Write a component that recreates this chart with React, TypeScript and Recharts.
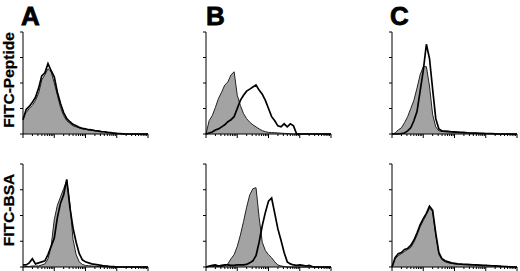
import { ComposedChart, Area, Line, XAxis, YAxis } from "recharts";

// log fluorescence, one bin every 0.1 decade (0 = 10^0 ... 4 = 10^4)
const BINS = [
  0, 0.1, 0.2, 0.3, 0.4, 0.5, 0.6, 0.7, 0.8, 0.9, 1, 1.1, 1.2, 1.3, 1.4, 1.5, 1.6, 1.7, 1.8, 1.9, 2,
  2.1, 2.2, 2.3, 2.4, 2.5, 2.6, 2.7, 2.8, 2.9, 3, 3.1, 3.2, 3.3, 3.4, 3.5, 3.6, 3.7, 3.8, 3.9, 4,
];
const DECADES = [0, 1, 2, 3, 4];
const MINORS = [2, 3, 4, 5, 6, 7, 8, 9];
const Y_TICKS = [0, 25, 50, 75, 100];

const COLUMNS = ["A", "B", "C"];
const ROWS = ["FITC-Peptide", "FITC-BSA"];

// filled grey = control, black line = stained
const A_PEP_CTRL = [16, 21, 25, 28, 33, 40, 53, 58, 64, 61, 50, 38, 26, 18, 13, 10.5, 8, 7, 6, 5, 4.6, 4, 3.6, 3.2, 2.9, 2.6, 2.2, 1.8, 1.4, 1, 0.7, 0.4, 0.2, 0, 0, 0, 0, 0, 0, 0, 0];
const A_PEP_STAIN = [14, 24, 27, 31, 36, 45, 57, 60, 69, 62, 56, 41, 30, 21, 15, 12, 9.5, 8, 6.5, 5.5, 5, 4.2, 4, 3.3, 3, 2.4, 2.2, 1.6, 1.3, 0.9, 0.6, 0.4, 0.2, 0, 0, 0, 0, 0, 0, 0, 0];
const B_PEP_CTRL = [0, 13, 18, 26, 35, 41, 48, 51, 58, 61, 38, 28, 20, 15, 11.5, 9, 7, 5, 3.3, 2.3, 1.6, 1.4, 1.3, 1, 0.8, 0.6, 0.4, 0.2, 0, 0, 0, 0, 0, 0, 0, 0, 0, 0, 0, 0, 0];
const B_PEP_STAIN = [0, 1, 2, 4, 5, 7, 9, 12, 14, 17, 25, 33, 38, 42, 44, 46, 48, 43, 39, 33, 25, 17, 13, 8, 7, 10, 7, 10, 8, 0, 0, 0, 0, 0, 0, 0, 0, 0, 0, 0, 0];
const C_PEP_CTRL = [0, 1, 4, 6, 11, 17, 25, 33, 45, 58, 66, 66, 47, 19, 7, 3, 2.5, 2.2, 2, 1.8, 1.5, 1.4, 1.3, 1.2, 1.1, 1, 0.9, 0.8, 0.7, 0.6, 0.5, 0.4, 0.3, 0.2, 0, 0, 0, 0, 0, 0, 0];
const C_PEP_STAIN = [0, 0, 0, 0.5, 1, 3, 6, 13, 22, 42, 62, 88, 74, 44, 15, 5, 3, 2.8, 2.5, 2.2, 2, 1.8, 1.6, 1.5, 1.2, 1, 0.9, 0.8, 0.7, 0.6, 0.5, 0.4, 0.3, 0.2, 0, 0, 0, 0, 0, 0, 0];
const A_BSA_CTRL = [0, 0.5, 0.5, 1, 1, 1, 2, 3, 8, 20, 46, 60, 68, 76, 84, 62, 27, 12, 5, 2.5, 1.5, 1.2, 1, 0.8, 0.6, 0.5, 0.3, 0.2, 0, 0, 0, 0, 0, 0, 0, 0, 0, 0, 0, 0, 0];
const A_BSA_STAIN = [2, 2, 4, 8, 3, 4, 5, 6, 12, 20, 28, 48, 62, 70, 85, 58, 38, 24, 13, 7, 5, 4, 3, 2.5, 2, 1.5, 1, 0.8, 0.5, 0.3, 0, 0, 0, 0, 0, 0, 0, 0, 0, 0, 0];
const B_BSA_CTRL = [0, 0.5, 0.5, 0.5, 0.5, 0.5, 1, 3, 8, 12, 20, 31, 44, 58, 70, 76, 77, 48, 24, 16, 12, 9, 5, 2, 1, 0.5, 0, 0, 0, 0, 0, 0, 0, 0, 0, 0, 0, 0, 0, 0, 0];
const B_BSA_STAIN = [0, 1, 1.5, 2, 1, 1.5, 2, 2, 1.5, 1.5, 2, 2, 2, 2.5, 4, 6, 11, 24, 40, 53, 64, 67, 52, 37, 26, 14, 5, 3, 2, 1.5, 2, 1.5, 1, 1.5, 0.5, 0, 0, 0, 0, 0, 0];
const C_BSA_CTRL = [0, 8, 11, 13, 15, 17, 19, 24, 31, 39, 45, 51, 57, 54, 31, 12, 7, 5, 4, 3.5, 3, 2.8, 2.6, 2.4, 2.2, 2, 1.9, 1.8, 1.7, 1.6, 1.5, 1.3, 1.2, 1.1, 1, 0.8, 0.6, 0.5, 0.3, 0.2, 0];
const C_BSA_STAIN = [0, 9, 13, 14, 17, 18, 21, 26, 33, 41, 47, 52, 59, 55, 33, 14, 8, 6, 5, 4, 3.5, 3, 2.8, 2.6, 2.5, 2.4, 2.2, 2, 1.8, 1.6, 1.5, 1.4, 1.2, 1, 0.8, 0.6, 0.5, 0.3, 0.2, 0, 0];

const X_TICKS = DECADES.flatMap((d) =>
  d < 4 ? [d, ...MINORS.map((m) => d + Math.log10(m))] : [d]
);

const PANELS = [
  { left: 23, top: 32, h: 102, ctrl: A_PEP_CTRL, stain: A_PEP_STAIN },
  { left: 206, top: 32, h: 102, ctrl: B_PEP_CTRL, stain: B_PEP_STAIN },
  { left: 392, top: 32, h: 102, ctrl: C_PEP_CTRL, stain: C_PEP_STAIN },
  { left: 23, top: 164, h: 103, ctrl: A_BSA_CTRL, stain: A_BSA_STAIN },
  { left: 206, top: 164, h: 103, ctrl: B_BSA_CTRL, stain: B_BSA_STAIN },
  { left: 392, top: 164, h: 103, ctrl: C_BSA_CTRL, stain: C_BSA_STAIN },
];
const PLOT_W = 125;
const FONT = "'Liberation Sans', Arial, Helvetica, sans-serif";

function XTick({ x, y, payload }: any) {
  const v = payload.value;
  const major = Math.abs(v - Math.round(v)) < 1e-6;
  return <line x1={x} x2={x} y1={y} y2={y + (major ? 4 : 2)} stroke="#000" strokeWidth={1} />;
}

function YTick({ x, y }: any) {
  return <line x1={x - 3} x2={x} y1={y} y2={y} stroke="#000" strokeWidth={1} />;
}

function Histogram({ left, top, h, ctrl, stain }: any) {
  const data = BINS.map((x, i) => ({ x, ctrl: ctrl[i], stain: stain[i] }));
  return (
    <div style={{ position: "absolute", left: left - 6, top: top - 2 }}>
      <ComposedChart
        width={PLOT_W + 8}
        height={h + 8}
        data={data}
        margin={{ top: 2, right: 2, left: 0, bottom: 0 }}
      >
        <XAxis
          dataKey="x"
          type="number"
          domain={[0, 4]}
          ticks={X_TICKS}
          interval={0}
          height={6}
          tickSize={0}
          tickMargin={0}
          tick={<XTick />}
          axisLine={{ stroke: "#000", strokeWidth: 1 }}
        />
        <YAxis
          type="number"
          domain={[0, 100]}
          ticks={Y_TICKS}
          interval={0}
          width={6}
          tickSize={0}
          tickMargin={0}
          tick={<YTick />}
          axisLine={{ stroke: "#000", strokeWidth: 1 }}
        />
        <Area
          type="linear"
          dataKey="ctrl"
          fill="#a3a3a3"
          fillOpacity={1}
          stroke="#222"
          strokeWidth={1}
          dot={false}
          activeDot={false}
          isAnimationActive={false}
        />
        <Line
          type="linear"
          dataKey="stain"
          stroke="#000"
          strokeWidth={1.7}
          dot={false}
          activeDot={false}
          isAnimationActive={false}
        />
      </ComposedChart>
    </div>
  );
}

export default function App() {
  const letterX = [21, 206, 390];
  const rowY = [80, 210];
  return (
    <div style={{ position: "absolute", left: 0, top: 0, width: 520, height: 271, background: "#fff" }}>
      <svg width={520} height={271} style={{ position: "absolute", left: 0, top: 0 }}>
        {COLUMNS.map((c, i) => (
          <text
            key={c}
            x={letterX[i]}
            y={25}
            fontFamily={FONT}
            fontWeight="bold"
            fontSize={26}
            fill="#000"
            stroke="#000"
            strokeWidth={0.8}
          >
            {c}
          </text>
        ))}
        {ROWS.map((r, i) => (
          <text
            key={r}
            x={14}
            y={rowY[i]}
            transform={`rotate(-90 14 ${rowY[i]})`}
            textAnchor="middle"
            fontFamily={FONT}
            fontWeight="bold"
            fontSize={15.5}
            fill="#000"
            stroke="#000"
            strokeWidth={0.3}
          >
            {r}
          </text>
        ))}
      </svg>
      {PANELS.map((p, i) => (
        <Histogram key={i} {...p} />
      ))}
    </div>
  );
}
